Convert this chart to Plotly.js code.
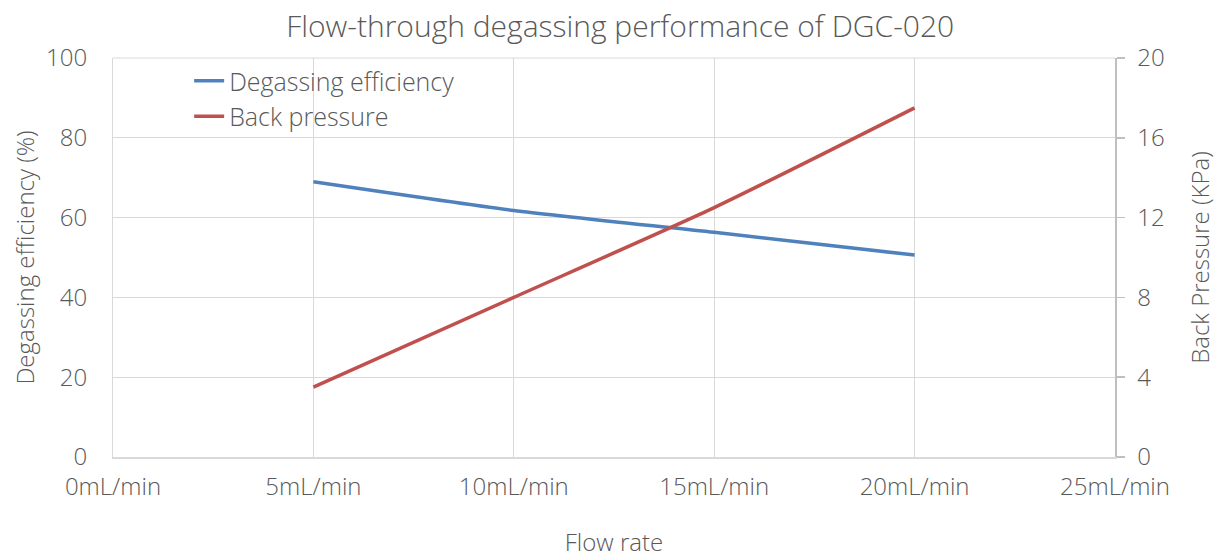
<!DOCTYPE html>
<html><head><meta charset="utf-8">
<script src="https://cdn.plot.ly/plotly-3.0.1.min.js"></script>
<style>html,body{margin:0;padding:0;background:#fff}#chart{width:1216px;height:558px}</style>
</head><body><div id="chart"></div>
<script>
const flowRates = [5, 10, 15, 20];
const efficiency = [69, 61.8, 56.3, 50.6];
const backPressure = [3.5, 8, 12.5, 17.5];
const xTicks = [0, 5, 10, 15, 20, 25];
const xTickLabels = ["0mL/min", "5mL/min", "10mL/min", "15mL/min", "20mL/min", "25mL/min"];

const txt = '#595959';
const grid = '#d9d9d9';
const fam = '"Open Sans", sans-serif';
const fs = 24;

const data = [
  {x: flowRates, y: efficiency, name: 'Degassing efficiency', type: 'scatter', mode: 'lines',
   line: {color: '#4f81bd', width: 3.5, shape: 'spline', smoothing: 0.6}, yaxis: 'y'},
  {x: flowRates, y: backPressure, name: 'Back pressure', type: 'scatter', mode: 'lines',
   line: {color: '#c0504d', width: 3.5, shape: 'spline', smoothing: 0.6}, yaxis: 'y2'}
];

const layout = {
  width: 1216, height: 558,
  margin: {l: 113, r: 101, t: 58, b: 101},
  paper_bgcolor: '#fff', plot_bgcolor: '#fff',
  font: {family: fam, color: txt, size: fs, weight: 300},
  title: {text: 'Flow-through degassing performance of DGC-020', x: 0.51, xanchor: 'center', y: 0.952, yanchor: 'middle',
          font: {size: 30, color: txt, family: fam, weight: 300}},
  showlegend: true,
  legend: {x: 0.076, y: 1.0, xanchor: 'left', yanchor: 'top', bgcolor: 'rgba(0,0,0,0)',
           font: {size: 25, color: txt, family: fam, weight: 300}, tracegroupgap: 0},
  xaxis: {range: [0, 25], tickvals: xTicks, ticktext: xTickLabels, showgrid: true, gridcolor: grid, gridwidth: 1,
          showline: true, linecolor: grid, linewidth: 1.5, zeroline: false, ticks: '', ticklen: 0,
          ticklabelstandoff: 8,
          tickfont: {size: fs, color: txt, weight: 300}, title: {text: 'Flow rate', standoff: 46, font: {size: fs, color: txt, weight: 300}}},
  yaxis: {range: [0, 100], dtick: 20, showgrid: true, gridcolor: grid, gridwidth: 1, showline: true, linecolor: grid,
          linewidth: 1, zeroline: false, ticks: '', ticklabelstandoff: 20, tickfont: {size: fs, color: txt, weight: 300},
          title: {text: 'Degassing efficiency (%)', standoff: 4, font: {size: fs, color: txt, weight: 300}}},
  yaxis2: {range: [0, 20], dtick: 4, overlaying: 'y', side: 'right', showgrid: false, showline: true, linecolor: '#bfbfbf',
           linewidth: 1.5, zeroline: false, ticks: 'outside', ticklen: 8, tickcolor: '#bfbfbf', tickwidth: 1.5,
           ticklabelstandoff: 8,
           tickfont: {size: fs, color: txt, weight: 300}, title: {text: 'Back Pressure (KPa)', standoff: 30, font: {size: fs, color: txt, weight: 300}}},
  shapes: [{type: 'line', xref: 'paper', yref: 'paper', x0: 0, x1: 1, y0: 1, y1: 1, line: {color: grid, width: 1}}]
};

Plotly.newPlot('chart', data, layout, {displayModeBar: false, staticPlot: true});
</script></body></html>
